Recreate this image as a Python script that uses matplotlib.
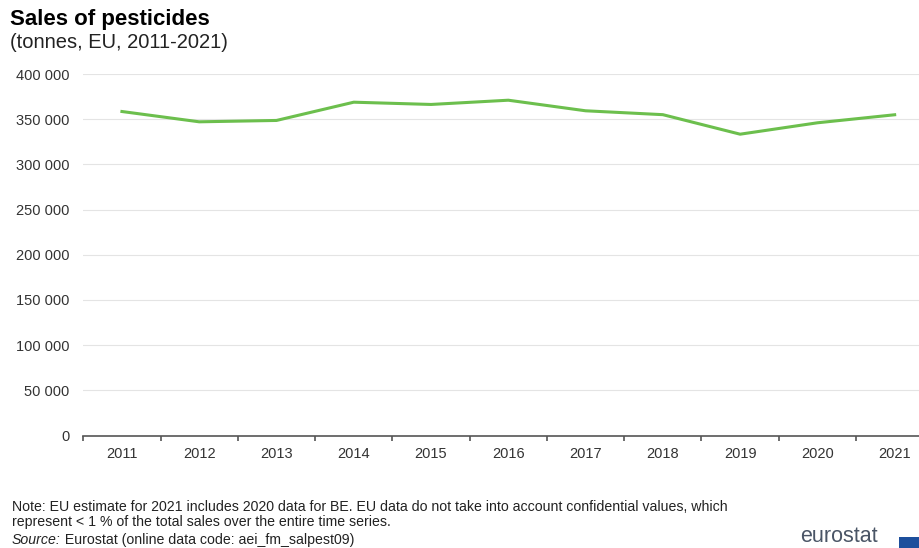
import matplotlib.pyplot as plt
from matplotlib.ticker import FuncFormatter, FixedLocator
from matplotlib.patches import Rectangle

plt.rcParams['font.family'] = ['Liberation Sans', 'DejaVu Sans']

# Datos (toneladas, UE)
years = ["2011", "2012", "2013", "2014", "2015", "2016",
         "2017", "2018", "2019", "2020", "2021"]
sales = [358500, 347100, 348600, 368800, 366300, 371000,
         359300, 355000, 333400, 346000, 354900]
y_ticks = [0, 50000, 100000, 150000, 200000, 250000, 300000, 350000, 400000]

title = "Sales of pesticides"
subtitle = "(tonnes, EU, 2011-2021)"
note_lines = ["Note: EU estimate for 2021 includes 2020 data for BE. EU data do not take into account confidential values, which",
              "represent < 1 % of the total sales over the entire time series."]
source_label = "Source:"
source_text = " Eurostat (online data code: aei_fm_salpest09)"

W, H = 920, 548
fig = plt.figure(figsize=(W / 100, H / 100), dpi=100)
ax = fig.add_axes([83.3 / W, (H - 435.5) / H, 850 / W, 361.5 / H])

x = list(range(len(years)))
ax.plot(x, sales, color="#6cbf4d", linewidth=2.2, solid_joinstyle="round")

ax.set_xlim(-0.5, len(years) - 0.5)
ax.set_ylim(0, 400000)

# Ejes y rejilla
for side in ["top", "right", "left"]:
    ax.spines[side].set_visible(False)
ax.spines["bottom"].set_color("#555555")
ax.spines["bottom"].set_linewidth(1.2)

ax.set_yticks(y_ticks)
ax.yaxis.set_major_formatter(FuncFormatter(lambda v, p: f"{int(v):,}".replace(",", " ")))
ax.tick_params(axis="y", length=0, pad=10, labelsize=10.5, labelcolor="#333333")
ax.grid(axis="y", color="#e4e4e4", linewidth=0.8)
ax.set_axisbelow(True)

ax.set_xticks(x)
ax.set_xticklabels(years)
ax.xaxis.set_minor_locator(FixedLocator([i - 0.5 for i in range(len(years) + 1)]))
ax.tick_params(axis="x", which="major", length=0, pad=8, labelsize=10.5, labelcolor="#333333")
ax.tick_params(axis="x", which="minor", length=3.5, width=1.2, color="#555555", direction="out")

# Títulos
fig.text(10 / W, 1 - 20 / H, title, fontsize=16, fontweight="bold", va="center", ha="left")
fig.text(10 / W, 1 - 43 / H, subtitle, fontsize=14.5, va="center", ha="left", color="#222222")

# Notas
fs_note = 10.2
fig.text(12 / W, 1 - 507 / H, note_lines[0], fontsize=fs_note, va="center", ha="left", color="#222222")
fig.text(12 / W, 1 - 522 / H, note_lines[1], fontsize=fs_note, va="center", ha="left", color="#222222")
t = fig.text(12 / W, 1 - 540 / H, source_label, fontsize=fs_note, style="italic", va="center", ha="left", color="#222222")
fig.canvas.draw()
bb = t.get_window_extent()
fig.text(bb.x1 / W, 1 - 540 / H, source_text, fontsize=fs_note, va="center", ha="left", color="#222222")

# Logo (en el borde inferior derecho)
fig.text(800 / W, 1 / H, "eurostat", fontsize=15.5, va="bottom", ha="left", color="#4a5566")
fig.patches.append(Rectangle((899 / W, 0), 25 / W, 11 / H, transform=fig.transFigure,
                             facecolor="#1d4f9c", edgecolor="none"))

fig.savefig("out.png", dpi=100)
